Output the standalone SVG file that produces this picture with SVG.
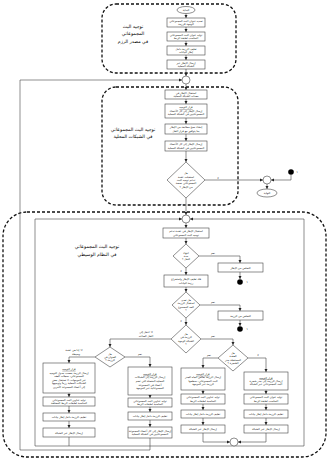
<svg xmlns="http://www.w3.org/2000/svg" width="330" height="466" viewBox="0 0 330 466">
<defs>
<marker id="ah" viewBox="0 0 6 6" refX="6" refY="3" markerWidth="3.2" markerHeight="3.2" markerUnits="userSpaceOnUse" orient="auto"><path d="M0,0 L6,3 L0,6 z" fill="#222"/></marker>
</defs>
<style>
.b{fill:#fff;stroke:#444;stroke-width:0.6}
.sec{fill:none;stroke:#111;stroke-width:1.3;stroke-dasharray:3 2}
.c{fill:none;stroke:#444;stroke-width:0.6}
.a{fill:none;stroke:#444;stroke-width:0.6;marker-end:url(#ah)}
.m{fill:#fff;stroke:#444;stroke-width:0.6}
.dot{fill:#000}
text{font-family:"DejaVu Sans","Liberation Sans",sans-serif;text-anchor:middle;fill:#222;direction:rtl}
.t{font-size:2.7px}
.l{font-size:3.2px}
.h{font-size:4.6px;fill:#000}
.u{text-decoration:underline}
</style>
<rect width="330" height="466" fill="#fff"/>

<g id="sections">
<rect class="sec" x="102" y="4" width="134" height="69" rx="14"/>
<rect class="sec" x="102" y="87" width="136" height="118" rx="14"/>
<rect class="sec" x="3" y="212" width="323" height="245" rx="24"/>
<text class="h" x="133" y="28">توجيه البث</text>
<text class="h" x="133" y="35">المجموعاتي</text>
<text class="h" x="133" y="43">في مصدر الرزم</text>
<text class="h" x="133" y="131">توجيه البث المجموعاتي</text>
<text class="h" x="133" y="138">في الشبكات المحلية</text>
<text class="h" x="97" y="248">توجيه البث المجموعاتي</text>
<text class="h" x="97" y="256">في النظام الوسيطي</text>
</g>

<g id="connectors">
<path class="a" d="M186,13.5 V18"/>
<path class="a" d="M186,27 V32"/>
<path class="a" d="M186,41 V46"/>
<path class="a" d="M186,55 V60"/>
<path class="a" d="M186,69 V76"/>
<path class="a" d="M186,84 V90"/>
<path class="a" d="M186,99 V104"/>
<path class="a" d="M186,118 V124"/>
<path class="a" d="M186,134 V141"/>
<path class="a" d="M186,151 V162"/>
<path class="a" d="M205,180 H263"/>
<path class="a" d="M291,175 V180 H271"/>
<path class="a" d="M267,184 V189"/>
<path class="a" d="M186,198 V215"/>
<path class="a" d="M186,223 V228"/>
<path class="a" d="M186,238 V244"/>
<path class="a" d="M199,256 H240 V263"/>
<path class="a" d="M240,272 V279"/>
<path class="a" d="M186,268 V275"/>
<path class="a" d="M186,287 V292"/>
<path class="a" d="M200,305 H240 V311"/>
<path class="a" d="M240,320 V326"/>
<path class="a" d="M186,318 V325"/>
<path class="a" d="M171,339 H110 V347"/>
<path class="a" d="M201,339 H233 V345"/>
<path class="a" d="M95,357 H69 V363"/>
<path class="a" d="M125,357 H150 V367"/>
<path class="a" d="M218,358 H203 V368"/>
<path class="a" d="M248,358 H266 V372"/>
<path class="a" d="M69,393 V397"/>
<path class="a" d="M69,406 V413"/>
<path class="a" d="M69,421 V428"/>
<path class="a" d="M150,395 V398"/>
<path class="a" d="M150,407 V412"/>
<path class="a" d="M150,420 V427"/>
<path class="a" d="M203,390 V394"/>
<path class="a" d="M203,404 V410"/>
<path class="a" d="M203,418 V425"/>
<path class="a" d="M266,390 V394"/>
<path class="a" d="M266,404 V410"/>
<path class="a" d="M266,418 V425"/>
<path class="a" d="M203,433 V442 H230"/>
<path class="a" d="M266,433 V442 H238"/>
<path class="a" d="M69,437 V446 H35 V219 H182"/>
<path class="c" d="M69,446 H234"/>
<path class="a" d="M234,446 H304 V219 H190"/>
<path class="a" d="M150,438 V450 H20 V80 H182"/>
</g>

<g id="start"><ellipse class="m" cx="186" cy="10" rx="9" ry="3.5"/><text class="t" x="186" y="11">البداية</text></g>
<g id="s1b1"><rect class="b" x="167" y="18" width="38" height="9"/><text class="t" x="186" y="21.8">تحديد عنوان البث المجموعاتي</text><text class="t" x="186" y="25.2">الوجهة للرزمة</text></g>
<g id="s1b2"><rect class="b" x="167" y="32" width="38" height="9"/><text class="t" x="186" y="35.8">توليد عنوان البث المجموعاتي</text><text class="t" x="186" y="39.2">المناسب لطبقة الربط</text></g>
<g id="s1b3"><rect class="b" x="167" y="46" width="38" height="9"/><text class="t" x="186" y="49.8">تغليف الرزمة داخل</text><text class="t" x="186" y="53.2">إطار البيانات</text></g>
<g id="s1b4"><rect class="b" x="167" y="60" width="38" height="9"/><text class="t" x="186" y="63.8">إرسال الإطار عبر</text><text class="t" x="186" y="67.2">الشبكة المحلية</text></g>
<g id="merge1"><circle class="m" cx="186" cy="80" r="4"/></g>

<g id="s2a"><rect class="b" x="165" y="90" width="42" height="9"/><text class="t" x="186" y="93.8">استقبال الإطار في</text><text class="t" x="186" y="97.2">معدات الشبكة المحلية</text></g>
<g id="s2b"><rect class="b" x="165" y="104" width="42" height="14"/><text class="t u" x="186" y="108.2">قرار التوجيه</text><text class="t" x="186" y="111.8">إرسال الإطار إلى كل الأعضاء</text><text class="t" x="186" y="115.4">المجموعاتيين في الشبكة المحلية</text></g>
<g id="s2c"><rect class="b" x="165" y="124" width="42" height="10"/><text class="t" x="186" y="128.2">إنشاء نسخ مطابقة من الإطار</text><text class="t" x="186" y="131.6">بما يتوافق مع قرار النقل</text></g>
<g id="s2d"><rect class="b" x="165" y="141" width="42" height="10"/><text class="t" x="186" y="145.2">إرسال الإطار إلى كل الأعضاء</text><text class="t" x="186" y="148.6">المجموعاتيين في الشبكة المحلية</text></g>
<g id="s2dec"><path class="m" d="M186,162 L205,180 L186,198 L167,180 Z"/><text class="t" x="186" y="174.2">هل</text><text class="t" x="186" y="177.6">استقبلت عقدة</text><text class="t" x="186" y="181">تدعم توجيه البث</text><text class="t" x="186" y="184.4">المجموعاتي نسخة</text><text class="t" x="186" y="187.8">من الإطار ؟</text></g>
<g id="merge2"><circle class="m" cx="267" cy="180" r="4"/></g>
<g id="conn1a"><circle class="dot" cx="291" cy="172" r="2.8"/><text class="l" x="297" y="173">١</text></g>
<g id="end"><ellipse class="m" cx="267" cy="193" rx="10" ry="4"/><text class="t" x="267" y="194">النهاية</text></g>

<g id="s3top"><circle class="m" cx="186" cy="219" r="4"/></g>
<g id="s3e"><rect class="b" x="163" y="228" width="46" height="10"/><text class="t" x="186" y="232.2">استقبال الإطار في عقدة تدعم</text><text class="t" x="186" y="235.6">توجيه البث المجموعاتي</text></g>
<g id="s3f"><path class="m" d="M186,244 L199,256 L186,268 L173,256 Z"/><text class="t" x="186" y="253.6">انتهاء</text><text class="t" x="186" y="257">مدة</text><text class="t" x="186" y="260.4">النقل ؟</text></g>
<g id="s3g"><rect class="b" x="218" y="263" width="45" height="9"/><text class="t" x="240.5" y="268.5">التخلص من الإطار</text></g>
<g id="conn1b"><circle class="dot" cx="240" cy="282" r="2.8"/><text class="l" x="247" y="283">١</text></g>
<g id="s3h"><rect class="b" x="164" y="275" width="44" height="12"/><text class="t" x="186" y="280.2">فك تغليف الإطار واستخراج</text><text class="t" x="186" y="283.6">رزمة البيانات</text></g>
<g id="s3i"><path class="m" d="M186,292 L200,305 L186,318 L172,305 Z"/><text class="t" x="186" y="300.9">هل تعدى</text><text class="t" x="186" y="304.3">استقبال الرزمة</text><text class="t" x="186" y="307.7">الحد المسموح</text><text class="t" x="186" y="311.1">؟</text></g>
<g id="s3j"><rect class="b" x="218" y="311" width="45" height="9"/><text class="t" x="240.5" y="316.5">التخلص من الرزمة</text></g>
<g id="conn1c"><circle class="dot" cx="240" cy="329" r="2.8"/><text class="l" x="247" y="330">١</text></g>
<g id="s3k"><path class="m" d="M186,325 L201,339 L186,353 L171,339 Z"/><text class="t" x="186" y="334.9">هل</text><text class="t" x="186" y="338.3">الرزمة في</text><text class="t" x="186" y="341.7">الشبكة الوجهة</text><text class="t" x="186" y="345.1">؟</text></g>
<g id="s3l"><path class="m" d="M110,347 L125,357 L110,367 L95,357 Z"/><text class="t" x="110" y="354.6">هل</text><text class="t" x="110" y="358">العنوان في</text><text class="t" x="110" y="361.4">الرزمة ؟</text></g>
<g id="s3m"><path class="m" d="M233,345 L248,358 L233,371 L218,358 Z"/><text class="t" x="233" y="353.9">هل</text><text class="t" x="233" y="357.3">العقدة</text><text class="t" x="233" y="360.7">المستقبلة جذر</text><text class="t" x="233" y="364.1">الشجرة ؟</text></g>

<g id="n1"><rect class="b" x="43" y="363" width="52" height="30"/><text class="t u" x="69" y="369.9">قرار التوجيه</text><text class="t" x="69" y="373.5">إرسال الرزمة بحسب جدول التوجيه</text><text class="t" x="69" y="377.1">المجموعاتي، سجلات العقد</text><text class="t" x="69" y="380.7">عبر الموجهات، لا تستقبل بعض</text><text class="t" x="69" y="384.3">الشبكات المحلية رزماً وتوجيهها</text><text class="t" x="69" y="387.9">إلى أعضاء المجموعة الآخرين</text></g>
<g id="n2"><rect class="b" x="43" y="397" width="52" height="9"/><text class="t" x="69" y="400.8">توليد عناوين البث المجموعاتي</text><text class="t" x="69" y="404.2">المناسبة لطبقات الربط المختلفة</text></g>
<g id="n3"><rect class="b" x="43" y="413" width="52" height="8"/><text class="t" x="69" y="418">تغليف الرزمة داخل إطار بيانات</text></g>
<g id="n4"><rect class="b" x="43" y="428" width="52" height="9"/><text class="t" x="69" y="433.5">إرسال الإطار عبر الشبكة</text></g>

<g id="p1"><rect class="b" x="128" y="367" width="44" height="28"/><text class="t u" x="150" y="374.8">قرار التوجيه</text><text class="t" x="150" y="378.4">إرسال الرزمة إلى الشبكات</text><text class="t" x="150" y="382">المحلية المتصلة التي تضم</text><text class="t" x="150" y="385.6">أعضاء في المجموعة</text><text class="t" x="150" y="389.2">المجموعاتية عبر الموجهة</text></g>
<g id="p2"><rect class="b" x="128" y="398" width="44" height="9"/><text class="t" x="150" y="401.8">توليد عناوين البث المجموعاتي</text><text class="t" x="150" y="405.2">المناسبة لطبقات الربط</text></g>
<g id="p3"><rect class="b" x="128" y="412" width="44" height="8"/><text class="t" x="150" y="417">تغليف الرزمة داخل إطار بيانات</text></g>
<g id="p4"><rect class="b" x="128" y="427" width="44" height="11"/><text class="t" x="150" y="431.8">إرسال الإطار إلى كل أعضاء المجموعة</text><text class="t" x="150" y="435.2">المجموعاتيين في الشبكة المحلية</text></g>

<g id="q1"><rect class="b" x="181" y="368" width="44" height="22"/><text class="t u" x="203" y="374.9">قرار التوجيه</text><text class="t" x="203" y="378.3">إرسال الرزمة بعكس اتجاه الجذر</text><text class="t" x="203" y="381.7">البث المجموعاتي، سطحها</text><text class="t" x="203" y="385.1">الرزمة عبر الموجهة</text></g>
<g id="q2"><rect class="b" x="181" y="394" width="44" height="10"/><text class="t" x="203" y="398.2">توليد عناوين البث المجموعاتي</text><text class="t" x="203" y="401.6">المناسبة لطبقات الربط</text></g>
<g id="q3"><rect class="b" x="181" y="410" width="44" height="8"/><text class="t" x="203" y="415">تغليف الرزمة داخل إطار بيانات</text></g>
<g id="q4"><rect class="b" x="181" y="425" width="44" height="8"/><text class="t" x="203" y="430">إرسال الإطار عبر الشبكة</text></g>

<g id="r1"><rect class="b" x="244" y="372" width="44" height="18"/><text class="t u" x="266" y="378.6">قرار التوجيه</text><text class="t" x="266" y="382">إرسال الرزمة إلى جذر شجرة</text><text class="t" x="266" y="385.4">البث المجموعاتي عبر الشبكة</text></g>
<g id="r2"><rect class="b" x="244" y="394" width="44" height="10"/><text class="t" x="266" y="398.2">توليد عنوان البث المجموعاتي</text><text class="t" x="266" y="401.6">المناسب لطبقة الربط</text></g>
<g id="r3"><rect class="b" x="244" y="410" width="44" height="8"/><text class="t" x="266" y="415">تغليف الرزمة داخل إطار بيانات</text></g>
<g id="r4"><rect class="b" x="244" y="425" width="44" height="8"/><text class="t" x="266" y="430">إرسال الإطار عبر الشبكة</text></g>
<g id="merge3"><circle class="m" cx="234" cy="442" r="4"/></g>

<g id="labels">
<text class="t" x="218" y="178.5">لا</text>
<text class="t" x="180" y="205">نعم</text>
<text class="t" x="213" y="254">نعم</text>
<text class="t" x="181" y="272">لا</text>
<text class="t" x="213" y="303">نعم</text>
<text class="t" x="181" y="322">لا</text>
<text class="t" x="146" y="333">لا: انتقل إلى</text>
<text class="t" x="146" y="337">النقل الصاعد</text>
<text class="t" x="213" y="337">نعم</text>
<text class="t" x="74" y="351">لا: إذا هي عقدة</text>
<text class="t" x="76" y="355">وسيطة</text>
<text class="t" x="140" y="355">نعم</text>
<text class="t" x="209" y="356">نعم</text>
<text class="t" x="258" y="356">لا</text>
</g>
</svg>
